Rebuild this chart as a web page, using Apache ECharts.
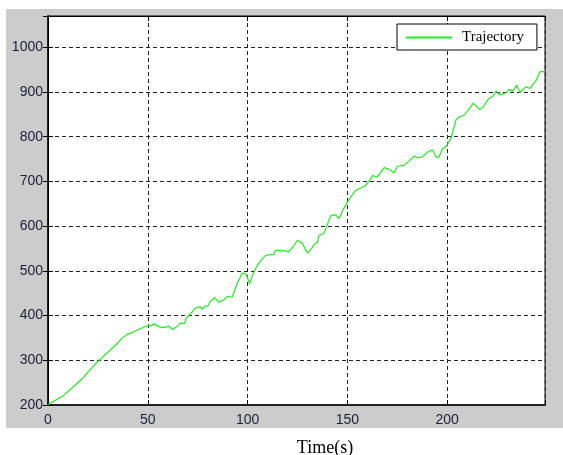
<!DOCTYPE html>
<html>
<head>
<meta charset="utf-8">
<script src="https://cdn.jsdelivr.net/npm/echarts@6/dist/echarts.min.js"></script>
<style>
  html, body { margin: 0; padding: 0; background: #ffffff; }
  #chart { width: 563px; height: 455px; }
</style>
</head>
<body>
<div id="chart"></div>
<script>
// Trajectory samples: time (s) and position value
const timeValues = [
  0, 2, 5, 8, 11, 14, 17, 20, 23, 25.4, 28, 31, 34.6, 37, 39.6, 42, 45.4, 48, 50.5, 52,
  53, 55, 57, 59, 60.5, 61.3, 62.5, 64.7, 66.3, 68.4, 69.2, 71.4, 73.9, 76.3, 77.2, 78.9, 80, 81.4, 83.6, 85.6,
  88, 89.8, 92.3, 94.8, 97.3, 99.3, 101, 102.5, 104, 106.5, 109, 111, 113.2, 114, 116, 119, 120.5, 123, 124.9, 127.4,
  130, 131.5, 133.3, 135, 135.8, 138.3, 140, 141.7, 144.2, 145.8, 148, 150, 152, 154.2, 157.5, 159, 160.9, 162.6, 165, 167,
  168.4, 171, 173.4, 175.1, 178.4, 181, 183.5, 185.2, 187.7, 190.2, 192.7, 194.4, 195.7, 197.7, 199.4, 201.9, 203, 204.4, 206, 208.6,
  211.1, 213.1, 216.1, 217.8, 220.8, 222.8, 224.5, 226.2, 229.5, 230.9, 232.9, 234.8, 236.5, 239.5, 241.5, 244.6, 246.6, 248.8
];
const trajectoryValues = [
  201, 206, 214, 222, 234, 246, 258, 273, 288, 299, 310, 322, 337, 349, 358, 362, 369, 374, 378, 377,
  382, 377, 373, 374, 376, 379, 369, 376, 383, 382, 394, 404, 417, 420, 414, 422, 421, 432, 440, 430,
  435, 443, 441, 471, 495, 493, 471, 490, 505, 523, 534, 536, 537, 546, 546, 545, 542, 555, 568, 562,
  540, 546, 559, 564, 579, 584, 604, 624, 625, 617, 638, 654, 667, 680, 687, 690, 701, 713, 710, 722,
  731, 727, 719, 734, 736, 746, 757, 753, 755, 766, 771, 755, 753, 773, 778, 796, 815, 837, 844, 848,
  863, 875, 861, 865, 885, 890, 902, 894, 898, 906, 902, 915, 899, 912, 908, 926, 946, 945
];
const seriesName = 'Trajectory';
const xAxisTitle = 'Time(s)';
const xTickStep = 50;
const yTickStep = 100;

const points = timeValues.map((t, i) => [t, trajectoryValues[i]]);

const chart = echarts.init(document.getElementById('chart'), null, { renderer: 'canvas' });

const tickFmt = step => v => (Math.abs(v / step - Math.round(v / step)) < 1e-9 ? String(v) : '');
const labelFont = { fontFamily: 'Liberation Sans, Arial, sans-serif', fontSize: 14, color: '#1e1e38' };
const gridDash = { color: '#222222', width: 1, type: [4, 3] };
const lineGreen = '#1ef01e';

chart.setOption({
  backgroundColor: '#ffffff',
  animation: false,
  graphic: [{
    type: 'rect',
    z: -10,
    silent: true,
    shape: { x: 6, y: 9, width: 557, height: 419 },
    style: { fill: '#cccccc' }
  }],
  grid: {
    left: 48, top: 16, width: 497, height: 389,
    outerBoundsMode: 'none',
    containLabel: false,
    show: true, backgroundColor: '#ffffff', borderColor: '#000000', borderWidth: 1
  },
  legend: {
    left: 397, top: 24,
    orient: 'horizontal',
    data: [{ name: seriesName, icon: 'rect' }],
    backgroundColor: '#ffffff',
    borderColor: '#000000', borderWidth: 1, borderRadius: 0,
    padding: [6, 13, 5, 9],
    itemWidth: 46, itemHeight: 2,
    itemStyle: { color: lineGreen, borderWidth: 0 },
    textStyle: { fontFamily: 'Liberation Serif, Times New Roman, serif', fontSize: 15, color: '#000000', padding: [0, 0, 0, 5] }
  },
  xAxis: [{
    type: 'value', min: 0, max: 249, interval: xTickStep,
    position: 'bottom',
    name: xAxisTitle, nameLocation: 'middle', nameGap: 34,
    nameTextStyle: { fontFamily: 'Liberation Serif, Times New Roman, serif', fontSize: 18, color: '#000000', padding: [0, 0, 0, 57] },
    axisLine: { show: true, lineStyle: { color: '#222222', width: 2 } },
    axisTick: { show: true, inside: true, length: 5, lineStyle: { color: '#000000' } },
    axisLabel: { ...labelFont, margin: 8, formatter: tickFmt(xTickStep) },
    splitLine: { show: true, lineStyle: gridDash }
  }, {
    type: 'value', min: 0, max: 249, interval: xTickStep,
    position: 'top',
    axisLine: { show: true, lineStyle: { color: '#000000', width: 1 } },
    axisTick: { show: true, inside: true, length: 5, lineStyle: { color: '#000000' } },
    axisLabel: { show: false },
    splitLine: { show: false }
  }],
  yAxis: [{
    type: 'value', min: 200, max: 1070, interval: yTickStep,
    position: 'left',
    axisLine: { show: true, lineStyle: { color: '#222222', width: 2 } },
    axisTick: { show: true, inside: true, length: 5, lineStyle: { color: '#000000' } },
    axisLabel: { ...labelFont, margin: 5, formatter: tickFmt(yTickStep) },
    splitLine: { show: true, lineStyle: gridDash }
  }, {
    type: 'value', min: 200, max: 1070, interval: yTickStep,
    position: 'right',
    axisLine: { show: true, lineStyle: { color: '#000000', width: 1 } },
    axisTick: { show: true, inside: true, length: 5, lineStyle: { color: '#000000' } },
    axisLabel: { show: false },
    splitLine: { show: false }
  }],
  series: [{
    name: seriesName,
    type: 'line',
    xAxisIndex: 0, yAxisIndex: 0,
    data: points,
    showSymbol: false,
    symbol: 'none',
    smooth: false,
    lineStyle: { color: lineGreen, width: 1.2 },
    itemStyle: { color: lineGreen },
    z: 5
  }]
});
</script>
</body>
</html>
